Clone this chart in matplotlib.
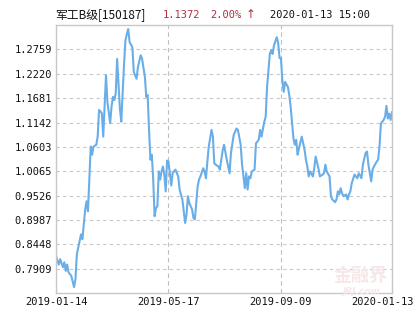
import matplotlib
matplotlib.use("Agg")
import matplotlib.pyplot as plt
import matplotlib.transforms as mtransforms

# trading day index (0 = 2019-01-14) and net value
days = [0, 2, 3, 5, 6, 7, 8, 9, 11, 13, 14, 15, 17, 18, 19, 21, 22, 23, 25, 26,
        27, 29, 30, 31, 33, 34, 36, 37, 39, 40, 41, 42, 43, 44, 46, 47, 49, 50, 51, 52,
        53, 55, 56, 58, 59, 61, 62, 64, 65, 66, 67, 68, 69, 70, 71, 72, 73, 74, 75, 76,
        77, 78, 79, 80, 81, 83, 84, 85, 86, 88, 89, 91, 93, 94, 95, 96, 98, 99, 100, 102,
        103, 104, 106, 107, 108, 109, 110, 112, 113, 114, 115, 117, 118, 120, 121, 123, 125, 126, 128, 130,
        131, 133, 134, 136, 137, 138, 139, 140, 141, 143, 144, 146, 147, 148, 150, 151, 152, 154, 155, 156,
        157, 159, 160, 161, 162, 163, 164, 165, 167, 168, 169, 171, 172, 173, 174, 175, 177, 179, 180, 181,
        182, 183, 185, 186, 187, 189, 190, 192, 193, 194, 195, 197, 198, 199, 201, 202, 203, 204, 205, 206,
        207, 209, 210, 211, 212, 213, 215, 217, 218, 220, 221, 223, 224, 225, 227, 228, 229, 231, 232, 233,
        234, 236, 237, 238, 239, 240, 241, 242]
values = [0.819, 0.800, 0.812, 0.794, 0.805, 0.786, 0.800, 0.783, 0.775, 0.750, 0.768, 0.823, 0.852, 0.867, 0.856, 0.922, 0.940, 0.918, 1.061, 1.043,
          1.061, 1.065, 1.083, 1.142, 1.135, 1.083, 1.219, 1.160, 1.113, 1.150, 1.171, 1.164, 1.178, 1.255, 1.145, 1.116, 1.244, 1.296, 1.310, 1.321,
          1.292, 1.281, 1.226, 1.211, 1.237, 1.263, 1.255, 1.215, 1.171, 1.175, 1.098, 1.032, 1.043, 0.988, 0.907, 0.925, 0.929, 1.006, 0.988, 1.006,
          1.017, 0.999, 0.962, 1.030, 1.028, 0.975, 1.002, 1.006, 1.010, 0.995, 0.966, 0.944, 0.892, 0.911, 0.951, 0.936, 0.922, 0.903, 0.900, 0.973,
          0.988, 0.995, 1.013, 1.006, 0.991, 1.028, 1.061, 1.098, 1.083, 1.024, 1.021, 1.017, 1.010, 1.052, 1.065, 1.032, 1.002, 1.047, 1.087, 1.101,
          1.098, 1.065, 1.021, 0.969, 1.002, 0.966, 0.995, 0.991, 1.006, 1.010, 1.068, 1.076, 1.098, 1.083, 1.116, 1.127, 1.193, 1.266, 1.274, 1.266,
          1.285, 1.303, 1.290, 1.257, 1.257, 1.208, 1.182, 1.204, 1.193, 1.175, 1.149, 1.079, 1.065, 1.076, 1.043, 1.057, 1.083, 1.054, 1.032, 1.017,
          0.995, 1.006, 0.995, 1.013, 1.039, 1.013, 0.995, 0.999, 1.002, 1.021, 1.006, 0.995, 0.951, 0.944, 0.938, 0.944, 0.962, 0.955, 0.969, 0.958,
          0.951, 0.955, 0.944, 0.955, 0.962, 0.980, 0.999, 0.991, 1.002, 0.991, 1.021, 1.047, 1.050, 1.021, 0.984, 1.010, 1.017, 1.028, 1.032, 1.061,
          1.112, 1.120, 1.127, 1.151, 1.123, 1.134, 1.120, 1.137]

xtick_pos = [0, 81, 162, 242]
xtick_labels = ["2019-01-14", "2019-05-17", "2019-09-09", "2020-01-13"]
yticks = [0.7909, 0.8448, 0.8987, 0.9526, 1.0065, 1.0603, 1.1142, 1.1681, 1.2220, 1.2759]

fig = plt.figure(figsize=(4.15, 3.3), dpi=100)
ax = fig.add_axes([0.135, 0.112, 0.8096, 0.812])

ax.plot(days, values, color="#6aaee8", lw=1.5, solid_joinstyle="round")

ax.set_xlim(0, 242)
ax.set_ylim(0.7370, 1.3298)
ax.set_yticks(yticks)
ax.set_yticklabels([f"{v:.4f}" for v in yticks])
ax.set_xticks(xtick_pos)
ax.set_xticklabels(xtick_labels)

ax.grid(axis="y", color="#c8c8c8", lw=0.8, linestyle=(0, (3, 3)))
ax.grid(axis="x", color="#bdbdbd", lw=0.8, linestyle=(0, (4, 3)))
ax.tick_params(length=0, pad=3, labelsize=7.5, labelcolor="#111111")
for lab in ax.get_xticklabels() + ax.get_yticklabels():
    lab.set_family("DejaVu Sans Mono")
for s in ax.spines.values():
    s.set_color("#c8c8c8")
    s.set_linewidth(1.0)

# last date label is pulled in so it stays inside the image
last = ax.get_xticklabels()[-1]
last.set_transform(last.get_transform() + mtransforms.ScaledTranslation(-0.10, 0, fig.dpi_scale_trans))

# header line
fig.text(0.1325, 0.955, "军工B级[150187]", fontsize=8.5, va="center",
         family=["Noto Sans CJK SC", "DejaVu Sans"], color="#111111")
fig.text(0.393, 0.955, "1.1372", fontsize=7.5, va="center",
         family=["DejaVu Sans Mono", "Noto Sans CJK SC"], color="#b03040")
fig.text(0.506, 0.955, "2.00%", fontsize=7.5, va="center",
         family=["DejaVu Sans Mono", "Noto Sans CJK SC"], color="#b03040")
fig.text(0.592, 0.955, "↑", fontsize=8.5, va="center",
         family=["DejaVu Sans", "Noto Sans CJK SC"], color="#b03040")
fig.text(0.651, 0.955, "2020-01-13 15:00", fontsize=7.5, va="center",
         family=["DejaVu Sans Mono", "Noto Sans CJK SC"], color="#111111")

# watermark
fig.text(0.87, 0.165, "金融界", fontsize=13, ha="center", va="center",
         family=["Noto Sans CJK SC", "DejaVu Sans"], color="#f6e8e8", fontweight="bold")
fig.text(0.87, 0.118, "JRJ.com", fontsize=6.5, ha="center", va="center",
         color="#f6e8e8", style="italic", fontweight="bold")

fig.savefig("out.png", dpi=100)
